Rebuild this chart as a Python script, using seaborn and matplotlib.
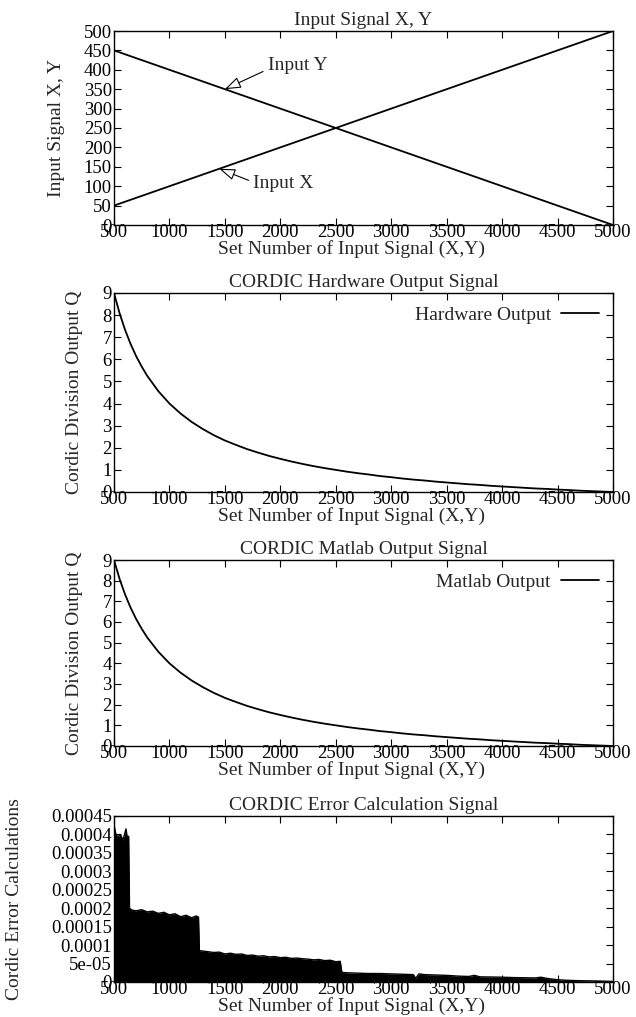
import matplotlib
matplotlib.use("Agg")
import matplotlib.pyplot as plt
import seaborn as sns
import pandas as pd
from matplotlib.ticker import FixedLocator, FixedFormatter

# Input signals (straight lines, given by their end points)
set_ends = [500, 5000]
input_x = [50, 500]
input_y = [450, 0]

# Division output Q read along the set number
q_set = [500, 550, 600, 650, 700, 750, 800, 900, 1000, 1100, 1200, 1300, 1400, 1500,
         1600, 1700, 1800, 1900, 2000, 2100, 2200, 2300, 2400, 2500, 2600, 2700,
         2800, 2900, 3000, 3100, 3200, 3300, 3400, 3500, 3600, 3700, 3800, 3900,
         4000, 4100, 4200, 4300, 4400, 4500, 4600, 4700, 4800, 4900, 5000]
q_hw = [9.00, 8.09, 7.33, 6.69, 6.14, 5.67, 5.25, 4.56, 4.00, 3.55, 3.17, 2.85, 2.57,
        2.33, 2.13, 1.94, 1.78, 1.63, 1.50, 1.38, 1.27, 1.17, 1.08, 1.00, 0.92, 0.85,
        0.79, 0.72, 0.67, 0.61, 0.56, 0.52, 0.47, 0.43, 0.39, 0.35, 0.32, 0.28, 0.25,
        0.22, 0.19, 0.16, 0.14, 0.11, 0.09, 0.06, 0.04, 0.02, 0.00]
q_matlab = list(q_hw)

# Error signal: upper envelope (units of 1e-5) along the set number
err_set = [500, 510, 520, 540, 560, 580, 595, 608, 620, 632, 640, 660, 700, 750, 800,
           850, 900, 950, 1000, 1050, 1100, 1150, 1200, 1240, 1262, 1270, 1300, 1350,
           1400, 1450, 1500, 1550, 1600, 1650, 1700, 1750, 1800, 1850, 1900, 1950,
           2000, 2050, 2100, 2150, 2200, 2250, 2300, 2350, 2400, 2450, 2500, 2540,
           2555, 2600, 2700, 2800, 2900, 3000, 3100, 3200, 3220, 3250, 3300, 3400,
           3500, 3600, 3700, 3750, 3800, 3900, 4000, 4100, 4200, 4300, 4350, 4400,
           4500, 4600, 4700, 4800, 4900, 5000]
err_hi = [42.7, 41, 39.7, 39.5, 39.8, 38.5, 40, 41.5, 39, 39.5, 20, 19.5, 19.3, 19.6,
          19, 19.2, 18.6, 18.9, 18.2, 18.5, 17.7, 18.1, 17.4, 17.9, 17.6, 8.5, 8.4,
          8.2, 8.0, 8.1, 7.6, 7.8, 7.5, 7.6, 7.2, 7.3, 7.0, 7.1, 6.8, 6.9, 6.6, 6.7,
          6.4, 6.5, 6.3, 6.2, 6.0, 6.1, 5.8, 5.9, 5.5, 5.6, 2.6, 2.5, 2.4, 2.3, 2.3,
          2.2, 2.1, 2.0, 1.0, 2.2, 2.0, 1.9, 1.8, 1.6, 1.5, 1.8, 1.4, 1.35, 1.3, 1.2,
          1.15, 1.1, 1.3, 1.0, 0.6, 0.45, 0.35, 0.3, 0.25, 0.15]

x_ticks = [500, 1000, 1500, 2000, 2500, 3000, 3500, 4000, 4500, 5000]
xlabel = "Set Number of Input Signal (X,Y)"
err_ticks = [0, 5e-05, 1e-04, 1.5e-04, 2e-04, 2.5e-04, 3e-04, 3.5e-04, 4e-04, 4.5e-04]
err_tick_labels = ["0", "5e-05", "0.0001", "0.00015", "0.0002", "0.00025",
                   "0.0003", "0.00035", "0.0004", "0.00045"]

sns.set_theme(style="ticks")
plt.rcParams["font.family"] = ["Liberation Serif", "DejaVu Serif"]
FS = 14      # titles and axis labels
TFS = 13.5   # tick labels

W, H = 636, 1017
fig = plt.figure(figsize=(W / 100, H / 100), dpi=100)
fig.patch.set_facecolor("white")
LEFT, RIGHT = 114, 613

def make_axes(top_px, bottom_px):
    return fig.add_axes([LEFT / W, 1 - bottom_px / H,
                         (RIGHT - LEFT) / W, (bottom_px - top_px) / H])

def style(ax, title, ylabel, yticks, ylim, ylab_x, ylabels=None):
    ax.set_facecolor("white")
    ax.set_xlim(500, 5000)
    ax.set_ylim(*ylim)
    ax.xaxis.set_major_locator(FixedLocator(x_ticks))
    ax.set_xticklabels([str(t) for t in x_ticks])
    ax.yaxis.set_major_locator(FixedLocator(yticks))
    if ylabels is not None:
        ax.yaxis.set_major_formatter(FixedFormatter(ylabels))
    else:
        ax.set_yticklabels([str(t) for t in yticks])
    ax.tick_params(direction="in", length=5, width=0.8, top=True, right=True,
                   labelsize=TFS, colors="black")
    ax.tick_params(axis="x", pad=-0.5)
    ax.tick_params(axis="y", pad=1.5)
    for s in ax.spines.values():
        s.set_linewidth(1.0)
        s.set_color("black")
        s.set_visible(True)
    ax.set_title(title, fontsize=FS, pad=4)
    hpx = ax.get_position().height * H
    ax.set_xlabel(xlabel, fontsize=FS)
    ax.xaxis.set_label_coords(0.476, -(24 / hpx))
    ax.xaxis.label.set_va("center")
    ax.set_ylabel(ylabel, fontsize=FS)
    ax.yaxis.set_label_coords(-((LEFT - ylab_x) / (RIGHT - LEFT)), 0.5)
    ax.yaxis.label.set_va("center")
    ax.grid(False)

# Panel 1: input signals
ax1 = make_axes(31, 225)
df_in = pd.DataFrame({"n": set_ends * 2, "v": input_x + input_y,
                      "s": ["Input X"] * 2 + ["Input Y"] * 2})
sns.lineplot(data=df_in, x="n", y="v", units="s", estimator=None, color="black",
             lw=1.3, ax=ax1, legend=False)
style(ax1, "Input Signal X, Y", "Input Signal X, Y", list(range(0, 501, 50)),
      (0, 500), ylab_x=57)
arrow = dict(arrowstyle="-|>,head_length=0.7,head_width=0.25", fc="white",
             ec="black", lw=0.8, shrinkA=1, shrinkB=0)
ax1.annotate("Input Y", xy=(1500, 350), xytext=(1885, 412), fontsize=FS,
             va="center", ha="left", arrowprops=dict(arrow, relpos=(0, 0.25)))
ax1.annotate("Input X", xy=(1450, 145), xytext=(1755, 106), fontsize=FS,
             va="center", ha="left", arrowprops=dict(arrow, relpos=(0, 0.6)))

# Panel 2: hardware output
ax2 = make_axes(293, 492)
sns.lineplot(x=q_set, y=q_hw, color="black", lw=1.3, ax=ax2, label="Hardware Output")
style(ax2, "CORDIC Hardware Output Signal", "Cordic Division Output Q",
      list(range(0, 10)), (0, 9), ylab_x=75)

# Panel 3: matlab output
ax3 = make_axes(560, 746)
sns.lineplot(x=q_set, y=q_matlab, color="black", lw=1.3, ax=ax3, label="Matlab Output")
style(ax3, "CORDIC Matlab Output Signal", "Cordic Division Output Q",
      list(range(0, 10)), (0, 9), ylab_x=75)

for ax in (ax2, ax3):
    ax.legend(loc="upper right", frameon=False, markerfirst=False, fontsize=FS,
              handlelength=2.0, handletextpad=0.5, borderaxespad=0.5,
              borderpad=0.2)

# Panel 4: error signal
ax4 = make_axes(816, 982)
err_vals = [v * 1e-5 for v in err_hi]
ax4.fill_between(err_set, 0, err_vals, color="black", lw=0)
sns.lineplot(x=err_set, y=err_vals, color="black", lw=1.0, ax=ax4)
style(ax4, "CORDIC Error Calculation Signal", "Cordic Error Calculations",
      err_ticks, (0, 4.5e-4), ylab_x=15, ylabels=err_tick_labels)

fig.savefig("out.png", dpi=100, facecolor="white")
